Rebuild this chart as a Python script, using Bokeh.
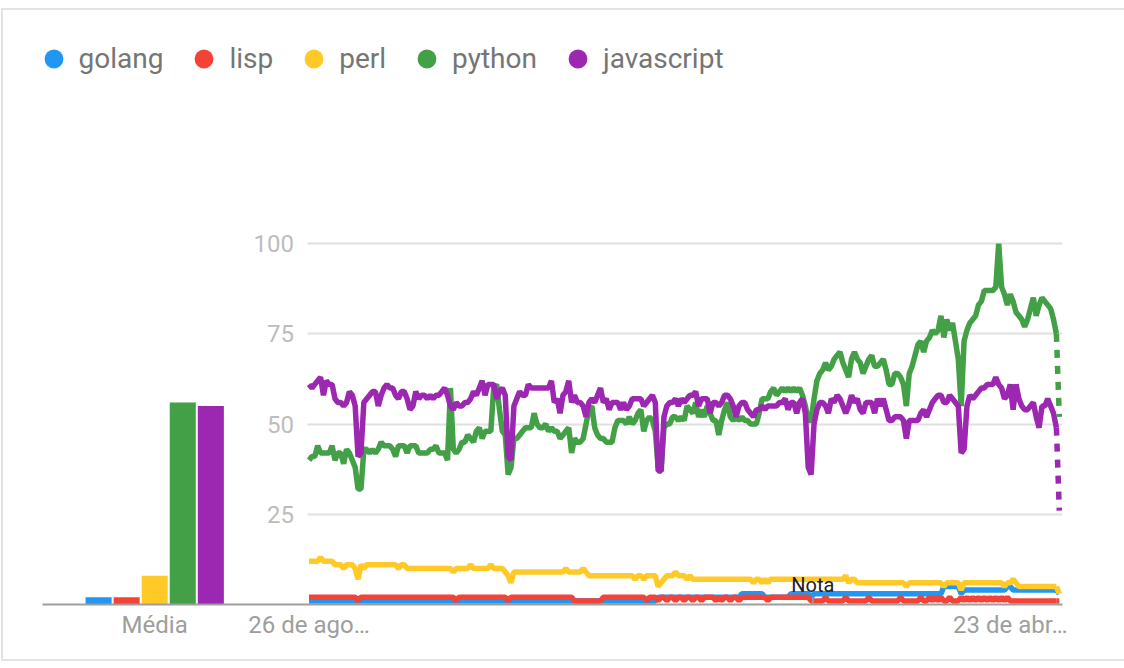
from bokeh.plotting import figure
from bokeh.models import Range1d, FixedTicker, Legend, LegendItem, ColumnDataSource
from bokeh.core.properties import value
from bokeh.embed import file_html
from bokeh.resources import INLINE

# ---------------- data ----------------
terms = ["golang", "lisp", "perl", "python", "javascript"]
colors = ["#2196f3", "#f44336", "#ffca28", "#43a047", "#9c27b0"]
averages = [2, 2, 8, 56, 55]
bar_label = "Média"
x_tick_weeks = [0, 243]
x_tick_labels = ["26 de ago…", "23 de abr…"]
y_ticks = [25, 50, 75, 100]
y_tick_labels = ["25", "50", "75", "100"]
note_week = 174.6
note_text = "Nota"

golang = [
    1, 1, 1, 1, 1, 1, 1, 1, 1, 1,
    1, 1, 1, 1, 1, 1, 1, 1, 1, 1,
    1, 1, 1, 1, 1, 1, 1, 1, 1, 1,
    1, 1, 1, 1, 1, 1, 1, 1, 1, 1,
    1, 1, 1, 1, 1, 1, 1, 1, 1, 1,
    1, 1, 1, 1, 1, 1, 1, 1, 1, 1,
    1, 1, 1, 1, 1, 1, 1, 1, 1, 1,
    1, 1, 1, 1, 1, 1, 1, 1, 1, 1,
    1, 1, 1, 1, 1, 1, 1, 1, 1, 1,
    1, 1, 1, 1, 1, 1, 1, 1, 1, 1,
    1, 1, 1, 1, 1, 1, 1, 1, 1, 1,
    1, 1, 1, 1, 1, 1, 1, 1, 1, 1,
    1, 2, 2, 2, 2, 2, 2, 2, 2, 2,
    2, 2, 2, 2, 2, 2, 2, 2, 2, 2,
    2, 2, 2, 2, 2, 2, 2, 2, 2, 2,
    3, 3, 3, 3, 3, 3, 3, 3, 2, 2,
    2, 2, 2, 2, 2, 2, 2, 3, 3, 3,
    3, 3, 3, 3, 2, 3, 3, 3, 3, 3,
    3, 3, 3, 3, 3, 3, 3, 3, 3, 3,
    3, 3, 3, 3, 3, 3, 3, 3, 3, 3,
    3, 3, 3, 3, 3, 3, 3, 3, 3, 3,
    3, 3, 3, 3, 3, 3, 3, 3, 3, 3,
    5, 5, 5, 5, 5, 5, 3, 4, 4, 4,
    4, 4, 4, 4, 4, 4, 4, 4, 4, 4,
    4, 4, 5, 5, 4, 4, 4, 4, 4, 4,
    4, 4, 4, 4, 4, 4, 4, 4, 4, 4,
    3,
]

lisp = [
    2, 2, 2, 2, 2, 2, 2, 2, 2, 2,
    2, 2, 2, 2, 2, 2, 2, 1, 2, 2,
    2, 2, 2, 2, 2, 2, 2, 2, 2, 2,
    2, 2, 2, 2, 2, 2, 2, 2, 2, 2,
    2, 2, 2, 2, 2, 2, 2, 2, 2, 2,
    2, 1, 2, 2, 2, 2, 2, 2, 2, 2,
    2, 2, 2, 2, 2, 2, 2, 2, 2, 1,
    2, 2, 2, 2, 2, 2, 2, 2, 2, 2,
    2, 2, 2, 2, 2, 2, 2, 2, 2, 2,
    2, 2, 1, 1, 1, 1, 1, 1, 1, 1,
    1, 1, 2, 2, 2, 2, 2, 2, 2, 2,
    2, 2, 2, 2, 2, 2, 2, 1, 2, 2,
    2, 1, 2, 2, 1, 2, 2, 1, 2, 2,
    1, 2, 2, 1, 2, 2, 1, 2, 2, 2,
    2, 1, 2, 1, 2, 2, 1, 2, 2, 1,
    2, 2, 2, 2, 2, 2, 2, 2, 2, 1,
    2, 2, 2, 2, 2, 2, 2, 2, 2, 2,
    2, 2, 2, 2, 1, 1, 1, 1, 1, 2,
    1, 1, 1, 1, 1, 1, 2, 1, 1, 1,
    1, 1, 1, 1, 2, 1, 1, 1, 1, 1,
    1, 1, 1, 1, 1, 2, 1, 1, 1, 1,
    1, 1, 2, 1, 1, 2, 1, 2, 1, 2,
    1, 1, 2, 1, 1, 1, 2, 1, 2, 1,
    2, 1, 2, 1, 2, 1, 2, 1, 2, 1,
    2, 1, 2, 1, 1, 1, 1, 1, 1, 1,
    1, 1, 1, 1, 1, 1, 1, 1, 1, 1,
    1,
]

perl = [
    12, 12, 12, 12, 13, 12, 12, 12, 12, 11,
    11, 11, 10, 11, 11, 11, 10, 7, 11, 10,
    11, 11, 11, 11, 11, 11, 11, 11, 11, 11,
    11, 10, 11, 11, 10, 10, 10, 10, 10, 10,
    10, 10, 10, 10, 10, 10, 10, 10, 10, 10,
    9, 10, 10, 10, 10, 10, 11, 10, 10, 10,
    10, 10, 10, 11, 10, 10, 10, 10, 9, 8,
    6, 9, 9, 9, 9, 9, 9, 9, 9, 9,
    9, 9, 9, 9, 9, 9, 9, 9, 9, 10,
    9, 9, 9, 9, 9, 10, 9, 8, 8, 8,
    8, 8, 8, 8, 8, 8, 8, 8, 8, 8,
    8, 8, 8, 7, 8, 8, 7, 8, 8, 8,
    8, 5, 6, 7, 8, 8, 8, 9, 8, 8,
    8, 7, 8, 7, 7, 7, 7, 7, 7, 7,
    7, 7, 7, 7, 7, 7, 7, 7, 7, 7,
    7, 7, 7, 7, 6, 7, 7, 6, 7, 6,
    7, 7, 7, 7, 7, 7, 7, 7, 7, 7,
    7, 7, 7, 7, 7, 7, 7, 7, 7, 7,
    7, 7, 7, 7, 7, 7, 8, 6, 7, 7,
    6, 6, 6, 6, 6, 6, 6, 6, 6, 6,
    6, 6, 6, 6, 6, 6, 6, 5, 6, 6,
    6, 6, 6, 6, 6, 6, 6, 6, 6, 6,
    5, 6, 6, 6, 6, 6, 4, 6, 6, 6,
    6, 6, 6, 6, 6, 6, 6, 6, 6, 6,
    6, 5, 6, 6, 7, 6, 5, 5, 5, 5,
    5, 5, 5, 5, 5, 5, 5, 5, 5, 5,
    3,
]

python = [
    40, 41, 41, 44, 42, 42, 42, 42, 44, 40,
    42, 42, 39, 43, 42, 40, 38, 32, 32, 43,
    43, 42, 43, 42, 43, 45, 44, 44, 44, 43,
    41, 44, 44, 44, 42, 44, 44, 44, 42, 42,
    42, 42, 43, 43, 44, 42, 42, 42, 40, 60,
    43, 42, 43, 45, 45, 47, 46, 45, 48, 49,
    46, 48, 48, 48, 60, 61, 54, 48, 47, 36,
    38, 46, 46, 47, 48, 49, 49, 49, 53, 50,
    49, 49, 50, 48, 49, 48, 48, 46, 47, 48,
    49, 42, 46, 45, 45, 46, 50, 54, 55, 49,
    47, 46, 46, 45, 45, 45, 49, 51, 51, 51,
    50, 52, 50, 51, 53, 54, 48, 51, 52, 51,
    48, 38, 37, 49, 50, 50, 52, 52, 51, 52,
    51, 55, 54, 53, 56, 52, 54, 52, 55, 53,
    51, 51, 47, 51, 54, 56, 52, 51, 52, 51,
    52, 51, 51, 50, 50, 50, 53, 57, 57, 57,
    59, 60, 58, 59, 60, 59, 60, 59, 60, 59,
    60, 58, 55, 51, 51, 57, 62, 64, 65, 67,
    65, 66, 68, 69, 70, 67, 65, 63, 68, 70,
    68, 67, 64, 66, 68, 69, 66, 66, 67, 68,
    65, 61, 61, 64, 64, 63, 61, 55, 64, 66,
    69, 72, 73, 70, 73, 74, 76, 75, 76, 80,
    74, 79, 76, 78, 73, 68, 55, 73, 76, 78,
    79, 80, 83, 84, 87, 87, 87, 87, 88, 100,
    88, 86, 83, 86, 84, 81, 80, 79, 77, 79,
    82, 85, 80, 83, 85, 84, 83, 82, 79, 75,
    52,
]

javascript = [
    61, 60, 61, 62, 63, 58, 62, 61, 61, 57,
    56, 56, 55, 56, 59, 58, 55, 41, 42, 56,
    57, 58, 59, 59, 55, 58, 60, 61, 60, 60,
    58, 57, 59, 59, 57, 54, 55, 59, 57, 58,
    58, 57, 58, 57, 58, 58, 59, 60, 58, 55,
    54, 56, 55, 55, 56, 56, 57, 59, 58, 60,
    62, 58, 61, 61, 61, 57, 59, 60, 58, 41,
    40, 55, 57, 59, 58, 58, 61, 60, 60, 60,
    60, 60, 60, 60, 62, 56, 57, 53, 58, 59,
    62, 56, 58, 56, 56, 55, 52, 56, 57, 56,
    58, 60, 56, 57, 54, 56, 56, 56, 54, 56,
    54, 55, 57, 57, 57, 57, 55, 56, 57, 58,
    56, 37, 37, 52, 55, 56, 56, 57, 55, 57,
    56, 57, 58, 58, 59, 55, 57, 57, 57, 53,
    56, 56, 55, 56, 58, 58, 57, 55, 52, 55,
    56, 56, 54, 53, 52, 54, 54, 55, 54, 55,
    55, 55, 55, 56, 56, 57, 54, 56, 56, 53,
    56, 57, 53, 38, 36, 50, 54, 56, 56, 55,
    53, 57, 56, 58, 57, 55, 53, 55, 58, 56,
    57, 54, 53, 56, 56, 56, 53, 57, 55, 57,
    54, 51, 51, 52, 52, 52, 51, 46, 51, 51,
    51, 51, 53, 54, 52, 54, 56, 57, 58, 58,
    56, 56, 58, 57, 56, 55, 42, 43, 55, 58,
    57, 58, 59, 60, 60, 61, 61, 61, 63, 61,
    60, 57, 58, 61, 54, 61, 57, 55, 54, 54,
    55, 56, 52, 49, 55, 55, 57, 55, 53, 49,
    26,
]

series = [golang, lisp, perl, python, javascript]
weeks = list(range(len(python)))

# ---------------- geometry (page pixels -> canvas pixels) ----------------
PAGE_W = 1124
ORIG_X, ORIG_Y = 3, 13            # canvas origin on the page (inside the card border)
W, H = PAGE_W - ORIG_X, 662 - ORIG_Y


def cx(px):
    return px - ORIG_X


def cy(py):
    return py - ORIG_Y


FRAME_L, FRAME_R, FRAME_B = cx(42), cx(1060), cy(603)
PX_PER_UNIT = 3.584
WEEK0_PX = cx(308)
WEEK_PX = 2.88
GRID_L = cx(306)
YLAB_R = cx(293)
BAR_PX, BAR_W_PX, BAR_CENTER_PX = 28, 26, cx(154)
LEG_CIRCLE_X, LEG_CIRCLE_Y, LEG_GLYPH = cx(53), cy(57), 47


def px_to_week(px):
    return (px - WEEK0_PX) / WEEK_PX


p = figure(width=W, height=H, output_backend="svg", toolbar_location=None,
           x_range=Range1d(px_to_week(FRAME_L), px_to_week(FRAME_R)),
           y_range=Range1d(0, FRAME_B / PX_PER_UNIT), y_axis_location=None,
           min_border_left=FRAME_L, min_border_right=W - FRAME_R,
           min_border_top=0, min_border_bottom=H - FRAME_B)
p.outline_line_color = None
p.background_fill_color = "white"
p.border_fill_color = "white"
p.styles = {"box-sizing": "content-box", "margin-top": "8px", "margin-left": "1px",
            "border-top": "2px solid #e3e3e3", "border-left": "2px solid #e3e3e3",
            "border-bottom": "2px solid #e3e3e3", "border-right": "none"}

# grid
p.xgrid.visible = False
p.ygrid.ticker = FixedTicker(ticks=y_ticks)
p.ygrid.grid_line_color = "#e0e0e0"
p.ygrid.grid_line_width = 2
p.ygrid.cross_bounds = (px_to_week(GRID_L), px_to_week(FRAME_R))

# bars (averages)
mid = (len(terms) - 1) / 2
bar_x = list(range(len(terms)))
p.extra_x_ranges = {"bars": Range1d(mid - (BAR_CENTER_PX - FRAME_L) / BAR_PX,
                                    mid + (FRAME_R - BAR_CENTER_PX) / BAR_PX)}
p.vbar(x=bar_x, top=averages, width=BAR_W_PX / BAR_PX,
       fill_color=colors, line_color=None, x_range_name="bars")

# x axis
media_w = round(px_to_week(BAR_CENTER_PX), 1)
p.xaxis.ticker = FixedTicker(ticks=[media_w] + x_tick_weeks)
overrides = {media_w: bar_label}
for w, lab in zip(x_tick_weeks, x_tick_labels):
    overrides[w] = lab
p.xaxis.major_label_overrides = overrides
p.xaxis.axis_line_color = "#9e9e9e"
p.xaxis.axis_line_width = 2
p.xaxis.major_tick_line_color = None
p.xaxis.minor_tick_line_color = None
p.xaxis.major_tick_out = 0
p.xaxis.major_label_standoff = 6
p.xaxis.major_label_text_font = "Roboto"
p.xaxis.major_label_text_font_size = "24px"
p.xaxis.major_label_text_color = "#9e9e9e"

# y tick labels
ysrc = ColumnDataSource(dict(x=[px_to_week(YLAB_R) for _ in y_ticks], y=y_ticks, text=y_tick_labels))
p.text(x="x", y="y", text="text", source=ysrc, text_align="right", text_baseline="middle",
       text_font=value("Roboto"), text_font_size="24px", text_color="#bdbdbd")

# lines
LW = 5.5
for s, c in zip(series, colors):
    p.line(weeks[:-1], s[:-1], line_color=c, line_width=LW)
for s, c in zip(series, colors):
    p.line(weeks[-2:], s[-2:], line_color=c, line_width=LW, line_dash="8 8")

# note marker
p.segment(x0=[note_week], y0=[0], x1=[note_week], y1=[2], line_color="#9e9e9e", line_width=1.5)
p.text(x=[note_week], y=[5.3], text=[note_text], text_align="center", text_baseline="middle",
       text_font=value("Roboto"), text_font_size="20px", text_color="#212121")

# legend (proxy markers sit on the bar tops with zero size)
items = []
for k, (t, c) in enumerate(zip(terms, colors)):
    r = p.scatter(x=[bar_x[k]], y=[averages[k]], marker="circle", size=0,
                  fill_color=c, line_color=None, x_range_name="bars")
    items.append(LegendItem(label=t, renderers=[r]))
leg_left = LEG_CIRCLE_X - LEG_GLYPH / 2
leg_top = LEG_CIRCLE_Y - LEG_GLYPH / 2
legend = Legend(items=items, orientation="horizontal",
                location=(leg_left - FRAME_L, FRAME_B - leg_top - LEG_GLYPH),
                glyph_width=LEG_GLYPH, glyph_height=LEG_GLYPH,
                label_standoff=2, spacing=17,
                padding=0, margin=0, border_line_color=None, background_fill_alpha=0,
                label_text_font="Roboto", label_text_font_size="28px",
                label_text_color="#757575")
p.add_layout(legend)

open("out.html", "w").write(file_html(p, INLINE))
